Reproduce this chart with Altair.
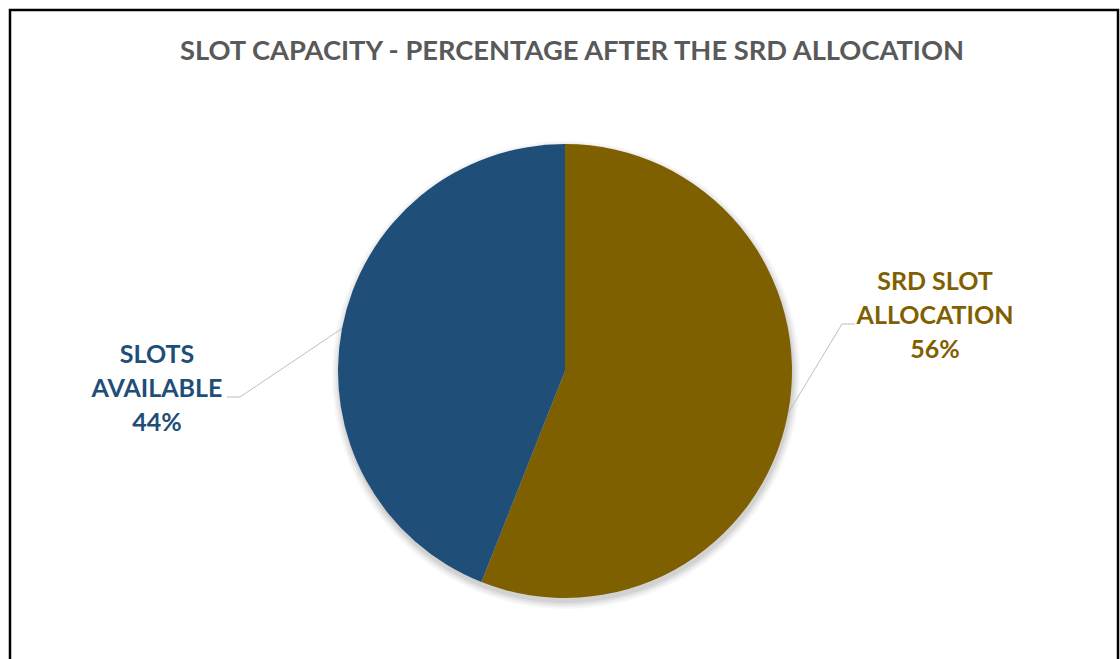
import math
import altair as alt
import pandas as pd

# Slice data
categories = ["SRD SLOT ALLOCATION", "SLOTS AVAILABLE"]
label_lines = [["SRD SLOT", "ALLOCATION", "56%"], ["SLOTS", "AVAILABLE", "44%"]]
shares = [56, 44]
colors = ["#7F6000", "#1F4E79"]

W, H = 1120, 659
CX, CY, R = 565, 371, 227

pie_df = pd.DataFrame({"category": categories, "share": shares, "order": [0, 1]})

color_scale = alt.Scale(domain=categories, range=colors)

# soft drop shadow under the pie
shadow_layers = []
for dr, op in [(7, 0.03), (5, 0.04), (3, 0.05), (1, 0.06)]:
    shadow_layers.append(
        alt.Chart(pie_df).mark_arc(radius=R + dr, color="#000000", opacity=op)
        .encode(theta=alt.Theta("share:Q", stack=True),
                order=alt.Order("order:Q"),
                x=alt.value(CX + 1), y=alt.value(CY + 4))
    )

pie = alt.Chart(pie_df).mark_arc(radius=R).encode(
    theta=alt.Theta("share:Q", stack=True),
    order=alt.Order("order:Q"),
    color=alt.Color("category:N", scale=color_scale, legend=None),
    x=alt.value(CX), y=alt.value(CY),
)

# leader lines start at each slice's mid-angle on the rim
total = sum(shares)
starts = []
acc = 0
for s in shares:
    mid = (acc + s / 2) / total * 2 * math.pi
    starts.append((CX + R * math.sin(mid), CY - R * math.cos(mid)))
    acc += s

elbows = [(842, 324), (240, 397)]
ends = [(855, 324), (227, 397)]
leader_rows = []
for k, cat in enumerate(categories):
    pts = [starts[k], elbows[k], ends[k]]
    for j, (px, py) in enumerate(pts):
        leader_rows.append({"category": cat, "px": px, "py": py, "j": j})
leader_df = pd.DataFrame(leader_rows)

leaders = alt.Chart(leader_df).mark_line(color="#BFBFBF", strokeWidth=1).encode(
    x=alt.X("px:Q", scale=None),
    y=alt.Y("py:Q", scale=None),
    detail="category:N",
    order="j:Q",
)

label_df = pd.DataFrame({
    "category": categories,
    "lines": label_lines,
    "lx": [935, 157],
    "ly": [282, 355],
})
labels = alt.Chart(label_df).mark_text(
    font="Lato", fontWeight="bold", fontSize=25, lineHeight=34,
    align="center", baseline="middle",
).encode(
    x=alt.X("lx:Q", scale=None),
    y=alt.Y("ly:Q", scale=None),
    text="lines",
    color=alt.Color("category:N", scale=color_scale, legend=None),
)

title = alt.Chart(pd.DataFrame({"t": ["SLOT CAPACITY - PERCENTAGE AFTER THE SRD ALLOCATION"]})).mark_text(
    font="Lato", fontWeight="bold", fontSize=27.3, color="#595959",
    align="center", baseline="middle",
).encode(x=alt.value(572), y=alt.value(52), text="t:N")

frame = alt.Chart(pd.DataFrame({"a": [0]})).mark_rect(
    fill=None, stroke="#000000", strokeWidth=2.5,
).encode(x=alt.value(10), x2=alt.value(1118), y=alt.value(10), y2=alt.value(680))

chart = alt.layer(frame, *shadow_layers, pie, leaders, labels, title).properties(
    width=W, height=H, padding=0, autosize=alt.AutoSizeParams(type="none"),
    background="#FFFFFF",
).configure_view(stroke=None)

chart.save("out.html", embed_options={"renderer": "svg", "actions": False})
